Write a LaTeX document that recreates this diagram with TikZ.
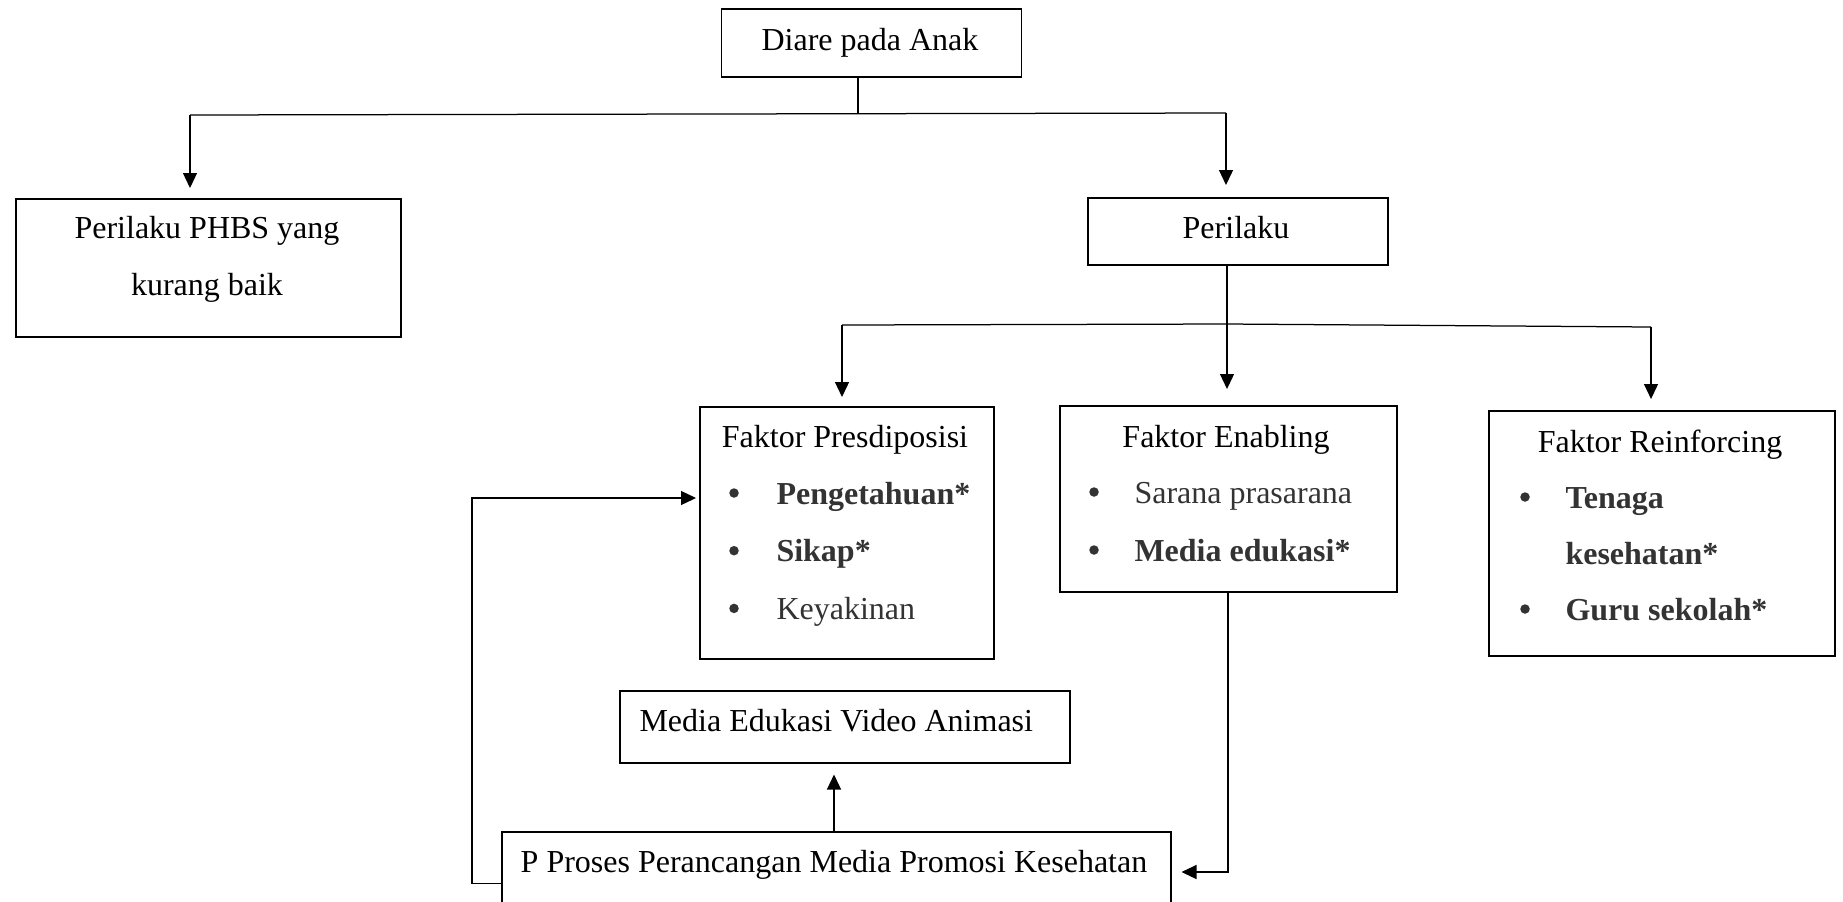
\documentclass[tikz,border=0pt]{standalone}
\usepackage{fontspec}
\setmainfont{Liberation Serif}
\usetikzlibrary{arrows.meta}
\newcommand{\pxu}{0.4pt}
\tikzset{
  kotak/.style={draw, line width=0.6pt, anchor=north west, inner sep=0pt},
  teks/.style={inner sep=0pt, anchor=base, font=\fontsize{12.8pt}{23pt}\selectfont},
  isi/.style={teks, anchor=base west, text=black!80},
  titik/.style={fill=black!80},
  garis/.style={line width=0.5pt},
  panah/.style={garis, -{Triangle[length=6pt,width=5.6pt]}}
}

\begin{document}
\begin{tikzpicture}[x=\pxu, y=-\pxu]
    \useasboundingbox (0,0) rectangle (1843,901);
    \clip (0,0) rectangle (1843,901);

    % kotak
    \node[kotak, minimum width=300*\pxu, minimum height=68*\pxu] (diare) at (720.5,8) {};
    \node[kotak, minimum width=385*\pxu, minimum height=138*\pxu] (phbs) at (15,198) {};
    \node[kotak, minimum width=300*\pxu, minimum height=67*\pxu] (perilaku) at (1087,197) {};
    \node[kotak, minimum width=294*\pxu, minimum height=252*\pxu] (presdis) at (699,406) {};
    \node[kotak, minimum width=337*\pxu, minimum height=186*\pxu] (enabling) at (1059,405) {};
    \node[kotak, minimum width=346*\pxu, minimum height=245*\pxu] (reinf) at (1488,410) {};
    \node[kotak, minimum width=450*\pxu, minimum height=72*\pxu] (video) at (619,690) {};
    \node[kotak, minimum width=669*\pxu, minimum height=104*\pxu] (proses) at (501,831) {};

    % teks
    \node[teks] (diare-t) at (870,50) {Diare pada Anak};
    \node[teks] (phbs-t1) at (207,238) {Perilaku PHBS yang};
    \node[teks] (phbs-t2) at (207,295) {kurang baik};
    \node[teks] (perilaku-t) at (1236,238) {Perilaku};

    \node[teks] (presdis-t) at (845,447) {Faktor Presdiposisi};
    \foreach \isi [count=\i] in {{\textbf{Pengetahuan*}}, {\textbf{Sikap*}}, Keyakinan} {
        \node[isi] (presdis-\i) at (776,{446.3+57.7*\i}) {\isi};
        \fill[titik] (734,{435.3+57.7*\i}) circle (1.9pt);
    }

    \node[teks] (enabling-t) at (1226,447) {Faktor Enabling};
    \foreach \isi [count=\i] in {Sarana prasarana, {\textbf{Media edukasi*}}} {
        \node[isi] (enabling-\i) at (1134,{445+58*\i}) {\isi};
        \fill[titik] (1094,{434+58*\i}) circle (1.9pt);
    }

    \node[teks] (reinf-t) at (1660,452) {Faktor Reinforcing};
    \node[isi] (reinf-1) at (1565,508) {\textbf{Tenaga}};
    \node[isi] (reinf-1b) at (1565,564) {\textbf{kesehatan*}};
    \node[isi] (reinf-2) at (1565,620) {\textbf{Guru sekolah*}};
    \fill[titik] (1525,497) circle (1.9pt);
    \fill[titik] (1525,609) circle (1.9pt);

    \node[teks, anchor=base west] (video-t) at (639,731) {Media Edukasi Video Animasi};
    \node[teks] (proses-t) at (834,872) {P Proses Perancangan Media Promosi Kesehatan};

    % cabang atas
    \coordinate (cabang1) at (858,114);
    \coordinate (cabang1-kiri) at (190,115);
    \coordinate (cabang1-kanan) at (1226,113);
    \draw[garis] (diare.south -| cabang1) -- (cabang1);
    \draw[garis] (cabang1-kiri) -- (cabang1-kanan);
    \draw[panah, shorten >=10*\pxu] (cabang1-kiri) -- (cabang1-kiri |- phbs.north);
    \draw[panah, shorten >=12*\pxu] (cabang1-kanan) -- (cabang1-kanan |- perilaku.north);

    % cabang faktor
    \coordinate (cabang2) at (1227,324);
    \coordinate (cabang2-kiri) at (842,325);
    \coordinate (cabang2-kanan) at (1651,327);
    \draw[garis] (cabang2-kiri) -- (cabang2) -- (cabang2-kanan);
    \draw[panah, shorten >=16*\pxu] (perilaku.south -| cabang2) -- (enabling.north -| cabang2);
    \draw[panah, shorten >=9*\pxu] (cabang2-kiri) -- (cabang2-kiri |- presdis.north);
    \draw[panah, shorten >=11*\pxu] (cabang2-kanan) -- (cabang2-kanan |- reinf.north);

    % alur proses
    \coordinate (balik-kanan) at (1228,872);
    \coordinate (balik-kiri) at (472,498);
    \coordinate (naik) at (834,831);
    \draw[panah, shorten >=10*\pxu] (enabling.south -| balik-kanan) -- (balik-kanan) -- (balik-kanan -| proses.east);
    \draw[panah, shorten >=11*\pxu] (naik) -- (naik |- video.south);
    \draw[panah, shorten >=3*\pxu] (proses.west) -| (balik-kiri) -- (balik-kiri -| presdis.west);
\end{tikzpicture}
\end{document}
